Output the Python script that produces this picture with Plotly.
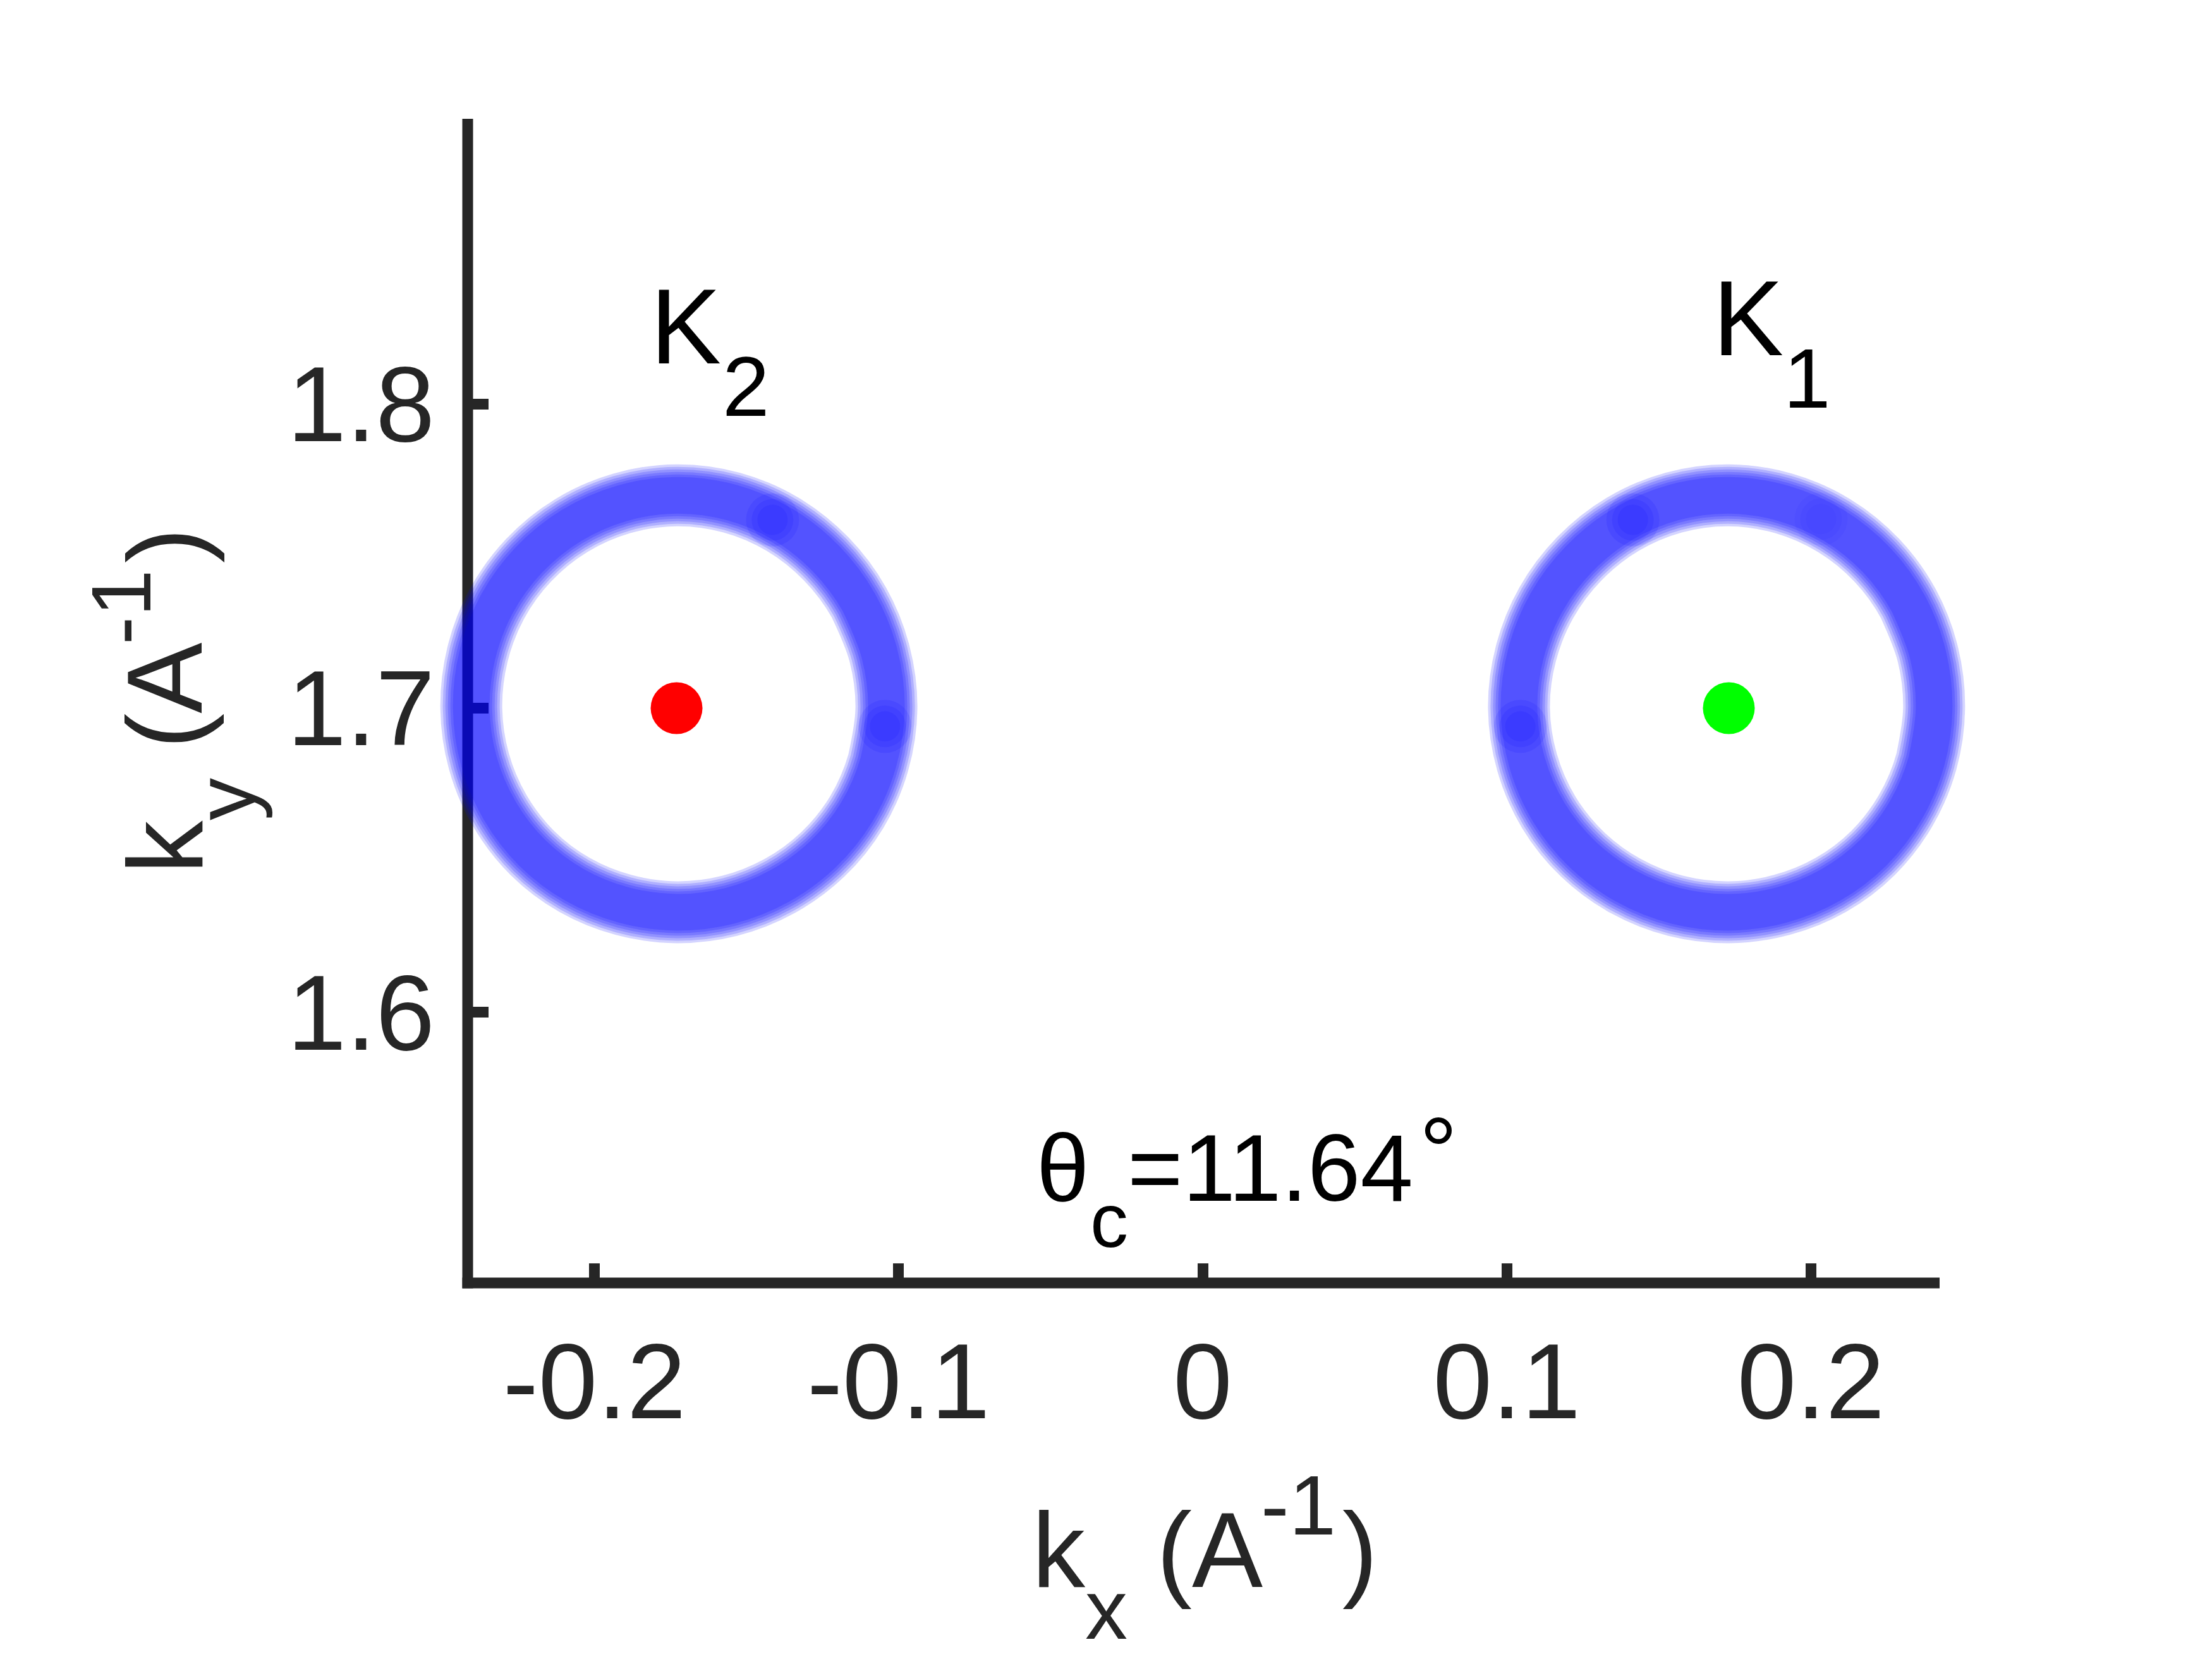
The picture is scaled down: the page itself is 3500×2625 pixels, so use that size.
import plotly.graph_objects as go
import numpy as np

# ---------------- data ----------------
X_TICKS = [-0.2, -0.1, 0.0, 0.1, 0.2]
X_TICK_TEXT = ["-0.2", "-0.1", "0", "0.1", "0.2"]
Y_TICKS = [1.6, 1.7, 1.8]
Y_TICK_TEXT = ["1.6", "1.7", "1.8"]

K2_CENTER = (-0.173, 1.700)   # red point
K1_CENTER = (0.173, 1.700)    # green point

# ring radius (A^-1) around each K point, read at these polar angles (deg)
RING_ANGLES = [0, 15, 30, 45, 60, 75, 90, 105, 120, 135, 150, 165,
               180, 195, 210, 225, 240, 255, 270, 285, 300, 315, 330, 345]
K1_RING_R = [0.0675, 0.0678, 0.0683, 0.0688, 0.0693, 0.0697, 0.0700, 0.0700,
             0.0698, 0.0695, 0.0693, 0.0691, 0.0690, 0.0687, 0.0684, 0.0680,
             0.0676, 0.0673, 0.0671, 0.0670, 0.0671, 0.0672, 0.0672, 0.0673]
K2_RING_R = [0.0690, 0.0691, 0.0693, 0.0695, 0.0698, 0.0700, 0.0700, 0.0697,
             0.0693, 0.0688, 0.0683, 0.0678, 0.0675, 0.0673, 0.0672, 0.0672,
             0.0671, 0.0670, 0.0671, 0.0673, 0.0676, 0.0680, 0.0684, 0.0687]

# denser (darker) spots on the rings: angle (deg), radius, strength
K1_SPOT_ANGLES = [117, 185, 64]
K1_SPOT_R = [0.0695, 0.0688, 0.0692]
K1_SPOT_W = [1.0, 1.0, 0.4]
K2_SPOT_ANGLES = [63, -5]
K2_SPOT_R = [0.0695, 0.0688]
K2_SPOT_W = [1.0, 1.0]

# ---------------- layout constants ----------------
W, H = 3500, 2625
PL, PR, PT, PB = 600.0, 3250.0, 150.0, 2030.0   # (unclipped) plot area, px
PW, PH = PR - PL, PB - PT
AX_X0, AX_X1, AX_YTOP = 740.0, 3069.0, 188.0   # visible axis box (line centres)
LW = 17.0
UNIT = 4812.0                                   # px per A^-1
X0_PX, Y17_PX = 1903.0, 1120.5                  # pixel of kx=0 and ky=1.7
X_RANGE = [(PL - X0_PX) / UNIT, (PR - X0_PX) / UNIT]
Y_RANGE = [1.7 - (PB - Y17_PX) / UNIT, 1.7 + (Y17_PX - PT) / UNIT]

FONT = "Liberation Sans, Arial, Helvetica, sans-serif"
AX_COL = "#262626"
DESC = 0.212  # font descent (em)


def px_x(px):
    return (px - PL) / PW


def px_y(py):
    return (PB - py) / PH


fig = go.Figure()


def ring_xy(center, angles, radii):
    a = np.deg2rad(np.array(angles, dtype=float))
    r = np.array(radii, dtype=float)
    xs = center[0] + r * np.cos(a)
    ys = center[1] + r * np.sin(a)
    # close the loop with some overlap so the spline has no seam
    xs = [xs[-1]] + list(xs) + list(xs[:3])
    ys = [ys[-1]] + list(ys) + list(ys[:3])
    return xs, ys


LAYERS = [98, 90, 82, 74, 66, 58]
for center, radii in [(K2_CENTER, K2_RING_R), (K1_CENTER, K1_RING_R)]:
    xs, ys = ring_xy(center, RING_ANGLES, radii)
    for w in LAYERS:
        fig.add_trace(go.Scatter(
            x=xs, y=ys, mode="lines",
            line=dict(color="rgba(0,0,255,0.17)", width=w, shape="spline", smoothing=1.0),
            hoverinfo="skip", showlegend=False))

for center, angs, rads, wts in [(K2_CENTER, K2_SPOT_ANGLES, K2_SPOT_R, K2_SPOT_W),
                                (K1_CENTER, K1_SPOT_ANGLES, K1_SPOT_R, K1_SPOT_W)]:
    a = np.deg2rad(np.array(angs, dtype=float))
    r = np.array(rads)
    sx = center[0] + r * np.cos(a)
    sy = center[1] + r * np.sin(a)
    for size in [84, 66, 48]:
        fig.add_trace(go.Scatter(
            x=sx, y=sy, mode="markers",
            marker=dict(size=size, color=[f"rgba(0,0,255,{0.10 * w:.3f})" for w in wts],
                        line=dict(width=0)),
            hoverinfo="skip", showlegend=False, cliponaxis=False))

fig.add_trace(go.Scatter(x=[K2_CENTER[0]], y=[K2_CENTER[1]], mode="markers",
                         marker=dict(size=82, color="#ff0000", line=dict(width=0)),
                         showlegend=False, cliponaxis=False))
fig.add_trace(go.Scatter(x=[K1_CENTER[0]], y=[K1_CENTER[1]], mode="markers",
                         marker=dict(size=82, color="#00ff00", line=dict(width=0)),
                         showlegend=False, cliponaxis=False))

annotations = []


def piece(text, ink_left, baseline, size, lsb, color):
    annotations.append(dict(
        text=text, xref="paper", yref="paper",
        x=px_x(ink_left - lsb * size), y=px_y(baseline + DESC * size),
        xanchor="left", yanchor="bottom", showarrow=False,
        borderpad=0, borderwidth=0,
        font=dict(family=FONT, size=size, color=color)))


def rpiece(text, origin_y, baseline_x, size, color):
    annotations.append(dict(
        text=text, xref="paper", yref="paper", textangle=-90,
        x=px_x(baseline_x + DESC * size), y=px_y(origin_y),
        xanchor="right", yanchor="bottom", showarrow=False,
        borderpad=0, borderwidth=0,
        font=dict(family=FONT, size=size, color=color)))


BIG, SMALL = 168, 134
# K labels
piece("K", 1041.7, 575.0, BIG, 0.073, "#000000")
piece("2", 1146.7, 657.7, SMALL, 0.029, "#000000")
piece("K", 2722.7, 562.7, BIG, 0.073, "#000000")
piece("1", 2836.7, 645.0, SMALL, 0.109, "#000000")

# theta label
piece("θ", 1647.0, 1900.0, 150, 0.045, "#000000")
piece("c", 1730.0, 1973.0, 120, 0.039, "#000000")
piece("=11.64", 1793.3, 1900.0, 150, 0.059, "#000000")
piece("°", 2258.0, 1873.0, 150, 0.080, "#000000")

# x-axis title:  k_x (A^-1)
XT = [("k", 1632.7, 2511.0, BIG), ("x", 1717.4, 2593.0, SMALL),
      ("(A", 1829.8, 2511.0, BIG), ("-1", 1995.1, 2428.0, SMALL),
      (")", 2123.5, 2511.0, BIG)]
for t, ox, bl, sz in XT:
    annotations.append(dict(
        text=t, xref="paper", yref="paper", x=px_x(ox), y=px_y(bl + DESC * sz),
        xanchor="left", yanchor="bottom", showarrow=False, borderpad=0, borderwidth=0,
        font=dict(family=FONT, size=sz, color=AX_COL)))

# y-axis title (rotated): k_y (A^-1)
YT_BASE = 320.0
for t, ox, bl, sz in XT:
    t2 = "y" if t == "x" else t
    rpiece(t2, 3015.0 - ox, YT_BASE + (bl - 2511.0), sz, AX_COL)

# axis lines (drawn as filled bars so the rings may overflow the axes like the original)
shapes = [
    dict(type="rect", xref="paper", yref="paper", layer="below",
         x0=px_x(AX_X0 - LW / 2), x1=px_x(AX_X1), y0=px_y(PB + LW / 2), y1=px_y(PB - LW / 2),
         fillcolor=AX_COL, line=dict(width=0)),
    dict(type="rect", xref="paper", yref="paper", layer="below",
         x0=px_x(AX_X0 - LW / 2), x1=px_x(AX_X0 + LW / 2), y0=px_y(PB + LW / 2), y1=px_y(AX_YTOP),
         fillcolor=AX_COL, line=dict(width=0)),
]

fig.update_layout(
    width=W, height=H,
    margin=dict(l=PL, r=W - PR, t=PT, b=H - PB, pad=0),
    paper_bgcolor="white", plot_bgcolor="rgba(0,0,0,0)",
    showlegend=False,
    annotations=annotations, shapes=shapes,
    xaxis=dict(range=X_RANGE, tickvals=X_TICKS, ticktext=X_TICK_TEXT,
               ticks="inside", ticklen=31, tickwidth=LW, tickcolor=AX_COL,
               showline=False, showgrid=False, zeroline=False, layer="below traces",
               tickfont=dict(family=FONT, size=168, color=AX_COL),
               ticklabelstandoff=45, fixedrange=True),
    yaxis=dict(range=Y_RANGE, tickvals=Y_TICKS, ticktext=Y_TICK_TEXT,
               anchor="free", position=px_x(AX_X0),
               ticks="inside", ticklen=32, tickwidth=LW, tickcolor=AX_COL,
               showline=False, showgrid=False, zeroline=False, layer="below traces",
               tickfont=dict(family=FONT, size=168, color=AX_COL),
               ticklabelstandoff=52, fixedrange=True),
)

fig.write_html("out.html", include_plotlyjs=True, config={"displayModeBar": False},
               post_script="document.body.style.margin='0';document.body.style.overflow='hidden';")
